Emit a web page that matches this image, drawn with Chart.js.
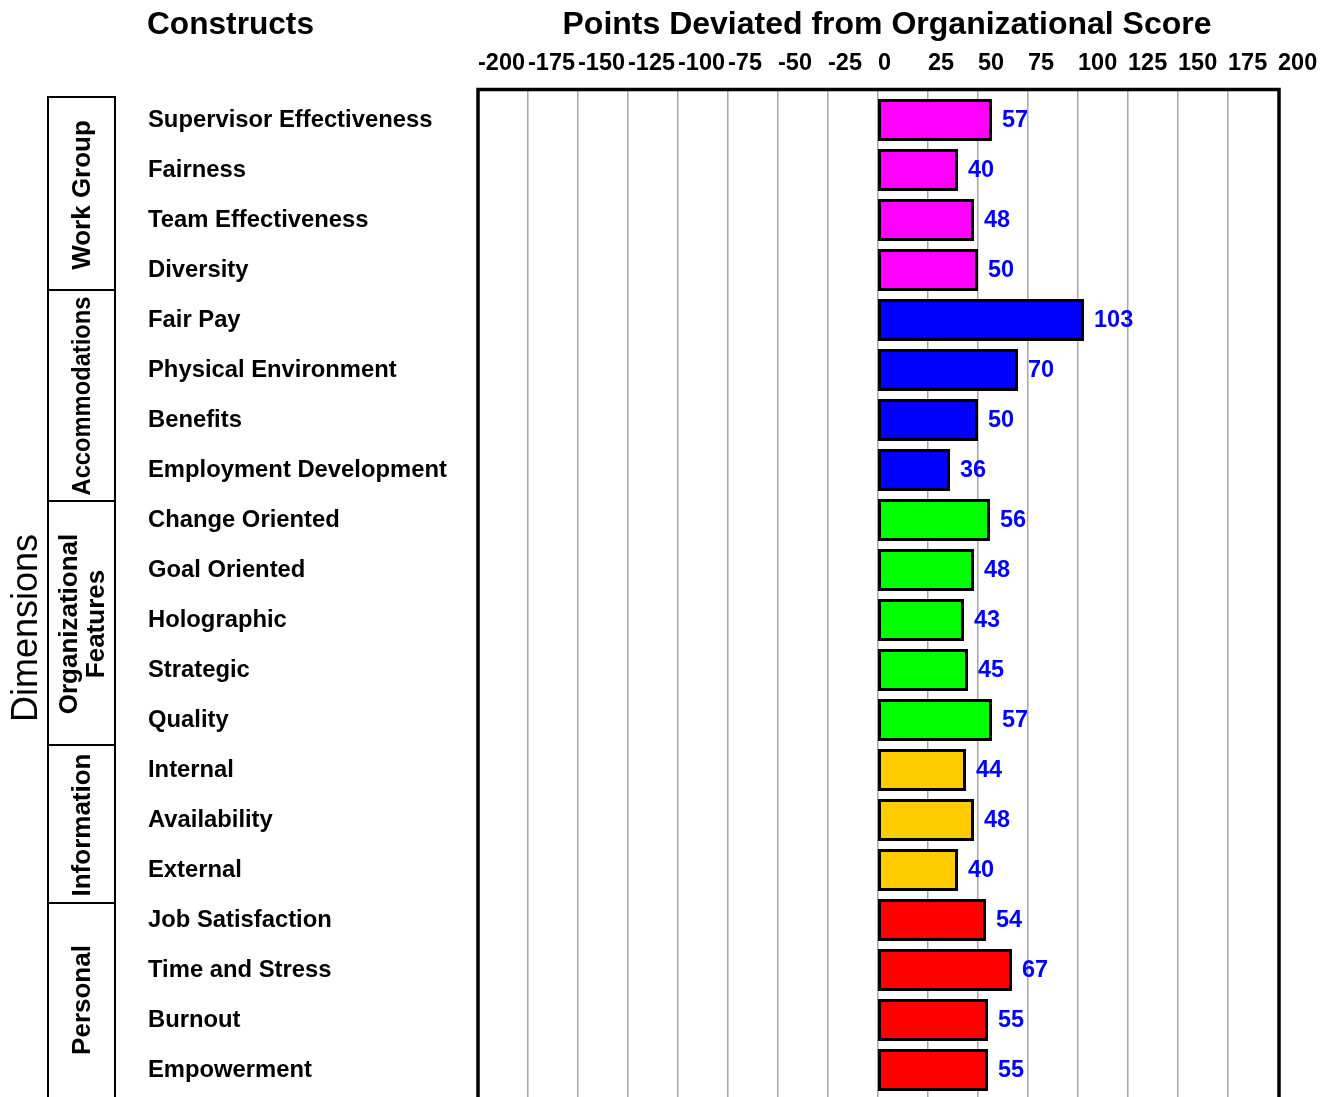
<!DOCTYPE html>
<html>
<head>
<meta charset="utf-8">
<script src="https://cdn.jsdelivr.net/npm/chart.js@4/dist/chart.umd.min.js"></script>
<style>
  html, body { margin: 0; padding: 0; background: #fff; overflow: hidden; }
  #wrap { position: relative; width: 1335px; height: 1120px; }
</style>
</head>
<body>
<div id="wrap"><canvas id="c"></canvas></div>
<script>
const categories = [
  "Supervisor Effectiveness", "Fairness", "Team Effectiveness", "Diversity",
  "Fair Pay", "Physical Environment", "Benefits", "Employment Development",
  "Change Oriented", "Goal Oriented", "Holographic", "Strategic", "Quality",
  "Internal", "Availability", "External",
  "Job Satisfaction", "Time and Stress", "Burnout", "Empowerment"
];
const values = [57, 40, 48, 50, 103, 70, 50, 36, 56, 48, 43, 45, 57, 44, 48, 40, 54, 67, 55, 55];
const groupNames = [["Work Group"], ["Accommodations"], ["Organizational", "Features"], ["Information"], ["Personal"]];
const groupSizes = [4, 4, 5, 3, 4];
const groupColors = ["#ff00ff", "#0000ff", "#00ff00", "#ffcc00", "#ff0000"];
const axisMin = -200, axisMax = 200, axisStep = 25;
const xTitle = "Points Deviated from Organizational Score";
const yTitle = "Constructs";
const sideTitle = "Dimensions";

const FONT = '"Liberation Sans", Arial, sans-serif';
const barColors = [];
groupSizes.forEach((n, gi) => { for (let i = 0; i < n; i++) barColors.push(groupColors[gi]); });

// layout-only decoration positions for the dimension boxes
const boxEdges = [97, 290, 501, 745, 903, 1120];
const boxLabelY = [195, 396, 624, 825, 1000];

const decorPlugin = {
  id: 'decor',
  beforeDatasetsDraw(chart) {
    const ctx = chart.ctx, xs = chart.scales.x, a = chart.chartArea;
    ctx.save();
    ctx.strokeStyle = '#a6a6a6';
    ctx.lineWidth = 1.5;
    xs.ticks.forEach(t => {
      if (t.value === axisMin || t.value === axisMax) return;
      const px = Math.round(xs.getPixelForValue(t.value)) - 0.25;
      ctx.beginPath();
      ctx.moveTo(px, a.top - 6);
      ctx.lineTo(px, a.bottom + 6);
      ctx.stroke();
    });
    ctx.restore();
  },
  afterDatasetsDraw(chart) {
    const ctx = chart.ctx, a = chart.chartArea;
    const meta = chart.getDatasetMeta(0);
    ctx.save();
    // value labels
    ctx.fillStyle = '#0000ff';
    ctx.font = 'bold 23.5px ' + FONT;
    ctx.textAlign = 'left';
    ctx.textBaseline = 'middle';
    meta.data.forEach((bar, i) => {
      ctx.fillText(String(values[i]), bar.x + 10, bar.y + 1);
    });
    // plot border
    const xs = chart.scales.x;
    const l = xs.getPixelForValue(axisMin), r = xs.getPixelForValue(axisMax);
    ctx.strokeStyle = '#000';
    ctx.lineWidth = 3.5;
    ctx.strokeRect(l, a.top - 5.5, r - l + 1, a.bottom - a.top + 11);
    // titles
    ctx.fillStyle = '#000';
    ctx.font = 'bold 32px ' + FONT;
    ctx.textBaseline = 'middle';
    ctx.textAlign = 'left';
    ctx.fillText(yTitle, 147, 25, 167);
    ctx.textAlign = 'center';
    ctx.fillText(xTitle, 887, 25);
    // Dimensions side title
    ctx.save();
    ctx.translate(25, 628);
    ctx.rotate(-Math.PI / 2);
    ctx.font = '36px ' + FONT;
    ctx.fillText(sideTitle, 0, 2);
    ctx.restore();
    // dimension boxes
    ctx.lineWidth = 2;
    ctx.beginPath();
    ctx.moveTo(48, boxEdges[0]); ctx.lineTo(48, boxEdges[boxEdges.length - 1]);
    ctx.moveTo(115, boxEdges[0]); ctx.lineTo(115, boxEdges[boxEdges.length - 1]);
    for (let i = 0; i < boxEdges.length - 1; i++) {
      ctx.moveTo(47, boxEdges[i]); ctx.lineTo(116, boxEdges[i]);
    }
    ctx.stroke();
    ctx.font = 'bold 26px ' + FONT;
    groupNames.forEach((lines, gi) => {
      ctx.save();
      ctx.translate(82, boxLabelY[gi]);
      ctx.rotate(-Math.PI / 2);
      const lh = 27;
      const maxW = boxEdges[gi + 1] - boxEdges[gi] - 12;
      lines.forEach((ln, li) => {
        const off = (li - (lines.length - 1) / 2) * lh;
        ctx.fillText(ln, 0, off + 1, Math.min(maxW, 400));
      });
      ctx.restore();
    });
    ctx.restore();
  }
};

new Chart(document.getElementById('c'), {
  type: 'bar',
  data: {
    labels: categories,
    datasets: [{
      data: values,
      backgroundColor: barColors,
      borderColor: '#000',
      borderWidth: 3,
      borderSkipped: false,
      barPercentage: 0.84,
      categoryPercentage: 1.0
    }]
  },
  options: {
    indexAxis: 'y',
    responsive: true,
    maintainAspectRatio: false,
    animation: false,
    layout: { padding: { left: 148, right: 57, top: 0, bottom: 25 } },
    plugins: { legend: { display: false }, tooltip: { enabled: false }, title: { display: false } },
    scales: {
      x: {
        position: 'top',
        min: axisMin, max: axisMax,
        grid: { display: false, drawTicks: false },
        border: { display: false },
        ticks: {
          stepSize: axisStep,
          autoSkip: false,
          maxRotation: 0,
          minRotation: 0,
          align: 'start',
          padding: 17,
          color: '#000',
          font: { family: FONT, size: 23.5, weight: 'bold' }
        },
        afterFit(s) { s.height = 95; }
      },
      y: {
        grid: { display: false, drawTicks: false },
        border: { display: false },
        ticks: {
          crossAlign: 'far',
          autoSkip: false,
          color: '#000',
          padding: 0,
          font: { family: FONT, size: 23.8, weight: 'bold' }
        },
        afterFit(s) { s.width = 330; }
      }
    }
  },
  plugins: [decorPlugin]
});
</script>
</body>
</html>
